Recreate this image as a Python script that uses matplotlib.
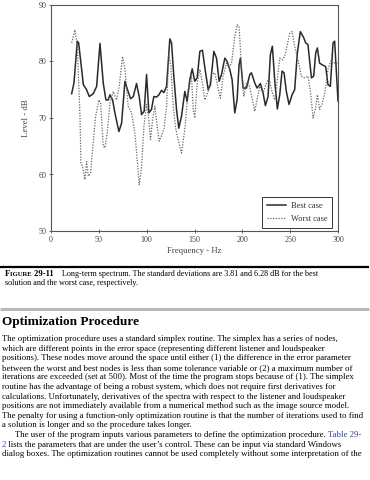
import matplotlib
matplotlib.use("Agg")
import matplotlib.pyplot as plt

# valores (Hz, dB)
best_freq = [21.6, 24, 27.5, 28.9, 31.3, 33.8, 37.2, 40, 44.2, 47.7, 51.2, 54.6, 57.4,
             59.9, 61.6, 64.4, 66.8, 71, 73.8, 77.3, 80, 83.2, 86, 89.4, 92.2, 94.7,
             97.4, 99.9, 102.3, 105, 107.5, 110.3, 112.8, 115.5, 118, 120.8, 124.2,
             126, 128.4, 131.2, 133.6, 136.4, 139.9, 142.3, 145.1, 147.6, 150.3, 152.8,
             155.6, 158.3, 161.1, 164.3, 166.7, 170.2, 173, 175.7, 178.2, 181.7, 184.1,
             186.9, 189.3, 192.1, 194.5, 196.6, 198, 200.8, 204.3, 207.8, 209.5, 213,
             215.4, 218.9, 221.7, 224.1, 226.9, 229.3, 231.4, 233.9, 236.6, 239.1,
             241.5, 243.6, 246, 248.8, 252, 254.7, 257.5, 260.6, 264.2, 266.2, 268.6,
             272.2, 274.6, 276.7, 278.4, 280.8, 283.6, 287.1, 289.5, 292, 294.8, 296.5,
             300]
best_level = [74.3, 76.2, 83.6, 83.3, 79.7, 75.9, 75.0, 73.8, 74.3, 75.6, 83.2, 76.2, 73.2,
              73.2, 74.1, 73.2, 70.9, 67.6, 69.1, 76.5, 75.0, 73.4, 73.8, 76.1, 73.8, 70.6,
              71.2, 77.7, 70.9, 71.5, 73.8, 73.7, 74.1, 74.9, 74.5, 75.6, 84.0,
              83.3, 77.4, 71.5, 68.2, 70.3, 74.7, 72.9, 76.8, 78.7, 76.5, 77.1,
              81.8, 82.0, 78.6, 75.0, 75.9, 81.8, 80.6, 76.5, 77.7, 80.6, 80.0,
              78.6, 76.8, 70.9, 73.2, 79.4, 80.6, 75.3, 75.3, 77.7, 78.0, 76.2,
              75.3, 76.1, 74.4, 72.2, 73.8, 81.2, 82.7, 76.5, 71.6, 74.1,
              78.3, 78.0, 74.7, 72.4, 74.1, 75.0, 81.5, 85.3, 84.2, 83.3, 83.0,
              77.1, 77.4, 81.5, 82.4, 79.7, 79.4, 79.1, 75.9, 75.6, 83.3, 83.6,
              73.0]

worst_freq = [21.6, 25, 27.5, 30.3, 31.3, 33, 35.5, 37.2, 39, 41.4, 43.5, 46.6, 50.1, 51.9,
              54.6, 56.4, 58.8, 61.6, 65, 68.5, 71.3, 74.8, 77.3, 80.7, 84.2, 87.7, 90.1,
              92.2, 94.7, 97.1, 99.9, 102.3, 104, 106.2, 108.6, 111, 113.1, 115.5, 118,
              120.8, 123.2, 125.3, 127.7, 130.5, 132.9, 136.4, 139.9, 143.4, 146.9, 148.6,
              150.3, 152.8, 155.6, 158.3, 160.8, 164.3, 167.7, 171.2, 174.7, 177.1, 179.9,
              183.4, 186.2, 188.7, 192.1, 194.5, 196.6, 199, 201.5, 204.3, 207.1, 210.6,
              213, 215.4, 218.2, 221.7, 225.2, 227.9, 230.4, 233.9, 236.3, 239.1, 241.9,
              244.3, 246.7, 249.5, 252, 254.7, 258.2, 261.6, 265.1, 268.6, 271.4, 273.9,
              276.7, 278.4, 280.8, 283.6, 286.1, 289.5, 293, 296.5, 300]
worst_level = [83.3, 85.6, 82.7, 70.3, 62.0, 61.4, 59.1, 62.3, 59.7, 60.3, 64.4, 70.3, 73.2, 72.6,
               65.0, 64.7, 67.3, 72.6, 74.7, 73.2, 75.6, 80.9, 78.6, 72.1, 70.9, 67.3, 62.6,
               58.2, 61.4, 68.5, 72.4, 69.7, 66.2, 69.7, 72.1, 68.5, 65.9, 66.8, 68.0,
               72.1, 81.2, 79.1, 72.1, 68.0, 66.2, 63.8, 68.0, 75.0, 77.4, 71.5,
               70.0, 76.2, 78.6, 76.2, 73.2, 74.7, 77.7, 78.0, 75.3, 73.5, 77.4,
               79.7, 78.9, 79.7, 84.5, 86.5, 86.2, 79.1, 73.8, 76.2, 75.9, 73.2,
               71.2, 73.2, 75.6, 74.4, 76.2, 77.1, 75.0, 73.2, 76.5, 80.6, 80.3,
               80.9, 82.7, 85.0, 85.3, 82.7, 80.3, 77.4, 77.1, 77.4, 74.4, 70.0,
               71.8, 74.1, 71.5, 72.6, 74.4, 78.6, 80.3, 79.7, 79.7]

x_ticks = [0, 50, 100, 150, 200, 250, 300]
y_ticks = [50, 60, 70, 80, 90]

caption_1 = "Long-term spectrum. The standard deviations are 3.81 and 6.28 dB for the best"
caption_2 = "solution and the worst case, respectively."
heading = "Optimization Procedure"
body = [
    "The optimization procedure uses a standard simplex routine. The simplex has a series of nodes,",
    "which are different points in the error space (representing different listener and loudspeaker",
    "positions). These nodes move around the space until either (1) the difference in the error parameter",
    "between the worst and best nodes is less than some tolerance variable or (2) a maximum number of",
    "iterations are exceeded (set at 500). Most of the time the program stops because of (1). The simplex",
    "routine has the advantage of being a robust system, which does not require first derivatives for",
    "calculations. Unfortunately, derivatives of the spectra with respect to the listener and loudspeaker",
    "positions are not immediately available from a numerical method such as the image source model.",
    "The penalty for using a function-only optimization routine is that the number of iterations used to find",
    "a solution is longer and so the procedure takes longer.",
]

W, H = 370, 480
serif = "Liberation Serif"
grey = "#555555"
blue = "#2f3fa8"

fig = plt.figure(figsize=(W / 100, H / 100), dpi=100)

# --- grafica ---
ax = fig.add_axes([51 / W, 1 - 231 / H, (338 - 51) / W, (231 - 5) / H])
ax.plot(best_freq, best_level, color="#2a2a2a", lw=1.1, label="Best case")
ax.plot(worst_freq, worst_level, color="#666666", lw=0.9, ls=(0, (1, 1.2)), label="Worst case")
ax.set_xlim(0, 300)
ax.set_ylim(50, 90)
ax.set_xticks(x_ticks)
ax.set_yticks(y_ticks)
ax.tick_params(direction="inout", length=3, width=0.6, color=grey, labelcolor="#444444",
               labelsize=5.8, pad=2)
for lab in ax.get_xticklabels() + ax.get_yticklabels():
    lab.set_family(serif)
for s in ax.spines.values():
    s.set_color(grey)
    s.set_linewidth(0.8)
ax.set_xlabel("Frequency - Hz", family=serif, fontsize=6.3, color="#444444", labelpad=2)
ax.set_ylabel("Level - dB", family=serif, fontsize=6.3, color="#444444", labelpad=6)
leg = ax.legend(loc="lower right", prop={"family": serif, "size": 6.0}, fancybox=False,
                edgecolor="#333333", framealpha=1, handlelength=2.2, borderpad=0.6,
                labelspacing=0.6, handletextpad=0.6, borderaxespad=0,
                bbox_to_anchor=(0.98, 0.015))
leg.get_frame().set_linewidth(0.7)
for t in leg.get_texts():
    t.set_color("#333333")

# --- texto de la pagina ---
tax = fig.add_axes([0, 0, 1, 1])
tax.set_xlim(0, W)
tax.set_ylim(H, 0)
tax.axis("off")
renderer = fig.canvas.get_renderer()


def run(x, y, parts, size):
    # escribe trozos seguidos sobre la misma linea base
    for s, kw in parts:
        t = tax.text(x, y, s, family=serif, fontsize=kw.pop("size", size), va="baseline", **kw)
        x = t.get_window_extent(renderer).x1


tax.plot([0, 369], [266.5, 266.5], color="black", lw=1.6, solid_capstyle="butt")
tax.plot([0, 369], [309, 309], color="#b8b8b8", lw=2.2, solid_capstyle="butt")

fs = 6.3
cs = 5.9
run(5, 276, [("F", {"weight": "bold", "size": 6.2}),
             ("IGURE ", {"weight": "bold", "size": 6.2 * 0.78}),
             ("29-11    ", {"weight": "bold", "size": 6.2}),
             (caption_1, {})], cs)
run(5, 285, [(caption_2, {})], cs)

tax.text(1.5, 324.5, heading, family=serif, fontsize=9.5, weight="bold", va="baseline")

y0, dy = 341, 9.6
for i, line in enumerate(body):
    run(1.5, y0 + i * dy, [(line, {})], fs)

y = y0 + len(body) * dy
run(15, y, [("The user of the program inputs various parameters to define the optimization procedure. ", {}),
            ("Table 29-", {"color": blue})], fs)
y += dy
run(1.5, y, [("2", {"color": blue}),
             (" lists the parameters that are under the user\u2019s control. These can be input via standard Windows", {})], fs)
y += dy
run(1.5, y, [("dialog boxes. The optimization routines cannot be used completely without some interpretation of the", {})], fs)

fig.savefig("out.png", dpi=100)
